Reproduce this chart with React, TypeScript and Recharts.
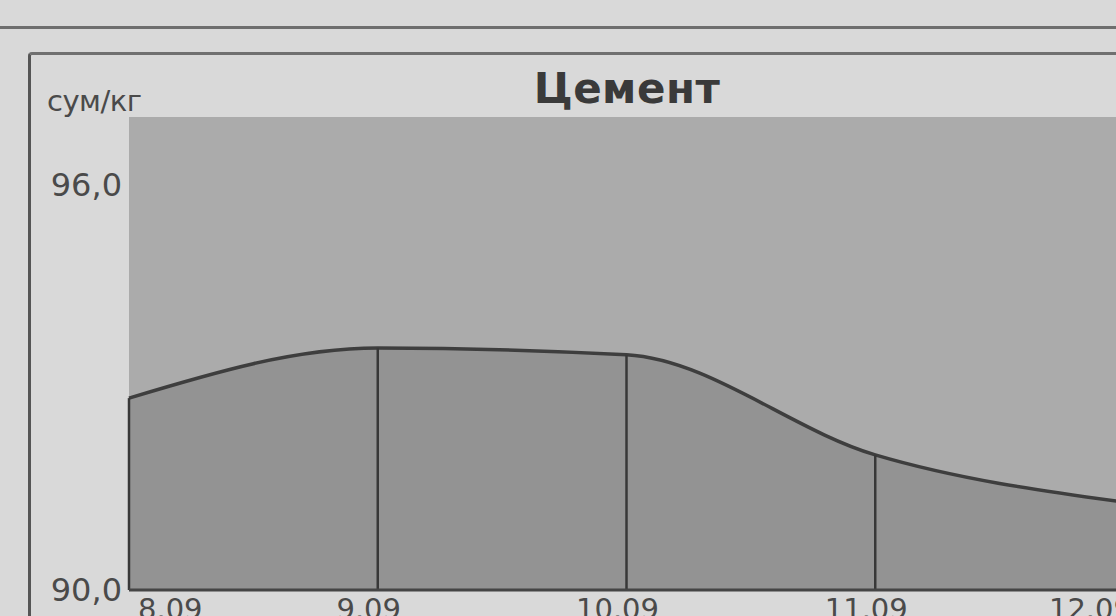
import React from 'react';
import { AreaChart, Area, XAxis, YAxis, CartesianGrid, ReferenceLine } from 'recharts';

// dates along the bottom and cement price (сум/кг)
const dates = ['8.09', '9.09', '10.09', '11.09', '12.09'];
const prices = [92.84, 93.58, 93.48, 92.0, 91.3];
const yTicks = [90, 96];
const yDomain = [90, 97];

const data = dates.map((date, i) => ({ date, price: prices[i] }));

const FONT = '"DejaVu Sans", Verdana, sans-serif';

function DateTick(props: any) {
  const { x, y, payload, index } = props;
  const last = index === dates.length - 1;
  let anchor: 'start' | 'middle' | 'end' = 'middle';
  let dx = -9;
  if (index === 0) {
    anchor = 'start';
    dx = 9;
  } else if (last) {
    anchor = 'end';
    dx = 8;
  }
  return (
    <text
      x={x + dx}
      y={y}
      dy="0.71em"
      textAnchor={anchor}
      fontSize={29}
      fontFamily={FONT}
      fill="#4a4a4a"
    >
      {payload.value}
    </text>
  );
}

export default function App() {
  return (
    <div
      style={{
        position: 'fixed',
        left: 0,
        top: 0,
        width: 1116,
        height: 616,
        overflow: 'hidden',
        background: '#d9d9d9',
        fontFamily: FONT,
      }}
    >
      {/* page frame lines */}
      <div style={{ position: 'absolute', left: 0, top: 26, width: 1116, height: 3, background: '#6e6e6e' }} />
      <div
        style={{
          position: 'absolute',
          left: 28,
          top: 52,
          width: 1200,
          height: 700,
          borderTop: '3px solid #707070',
          borderLeft: '3px solid #555',
          borderTopLeftRadius: 4,
        }}
      />

      <div
        style={{
          position: 'absolute',
          left: 0,
          width: 1254,
          top: 64,
          textAlign: 'center',
          fontSize: 42,
          fontWeight: 'bold',
          color: '#3a3a3a',
          letterSpacing: 0.5,
        }}
      >
        Цемент
      </div>
      <div
        style={{
          position: 'absolute',
          left: 47,
          top: 84,
          fontSize: 29,
          color: '#4a4a4a',
          letterSpacing: -0.5,
        }}
      >
        сум/кг
      </div>

      <div style={{ position: 'absolute', left: 0, top: 0 }}>
        <AreaChart
          width={1170}
          height={630}
          data={data}
          margin={{ top: 117, right: 46, bottom: 0, left: 0 }}
        >
          <CartesianGrid fill="#ababab" stroke="none" horizontal={false} vertical={false} />
          <XAxis
            dataKey="date"
            interval={0}
            padding={{ left: 0, right: 0 }}
            axisLine={{ stroke: '#454545', strokeWidth: 3 }}
            tickLine={false}
            tickSize={0}
            tickMargin={8}
            height={40}
            tick={<DateTick />}
          />
          <YAxis
            type="number"
            domain={yDomain}
            ticks={yTicks}
            width={129}
            axisLine={false}
            tickLine={false}
            tickSize={0}
            tickMargin={7}
            tickFormatter={(v: number) => v.toFixed(1).replace('.', ',')}
            tick={{ fontSize: 32, fill: '#4a4a4a', fontFamily: FONT }}
          />
          <Area
            type="monotone"
            dataKey="price"
            stroke="#3e3e3e"
            strokeWidth={3.5}
            fill="#939393"
            fillOpacity={1}
            dot={false}
            activeDot={false}
            isAnimationActive={false}
          />
          {data.map((d) => (
            <ReferenceLine
              key={d.date}
              segment={[
                { x: d.date, y: yDomain[0] },
                { x: d.date, y: d.price },
              ]}
              stroke="#383838"
              strokeWidth={2.5}
            />
          ))}
        </AreaChart>
      </div>
    </div>
  );
}
